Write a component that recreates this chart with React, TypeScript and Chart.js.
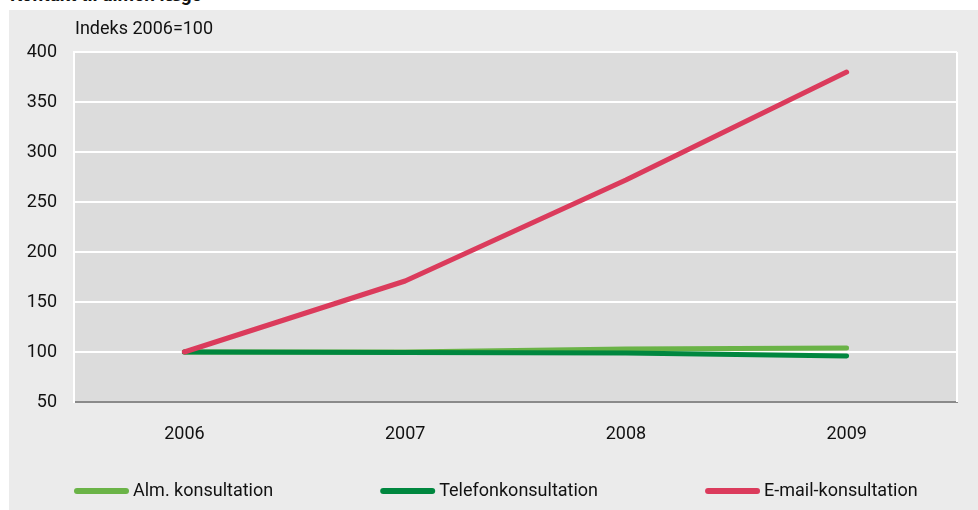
import React, { useEffect, useRef } from "react";
import { Chart, registerables } from "chart.js";

Chart.register(...registerables);

const TITLE = "Kontakt til almen læge";
const Y_TITLE = "Indeks 2006=100";
const categories = ["2006", "2007", "2008", "2009"];
const seriesNames = ["Alm. konsultation", "Telefonkonsultation", "E-mail-konsultation"];
const almValues = [100, 100, 103, 104];
const teleValues = [100, 99.5, 99, 96];
const emailValues = [100, 171, 272, 380];
const yTicks = [50, 100, 150, 200, 250, 300, 350, 400];

const FONT = "Roboto, 'Open Sans', sans-serif";
const TEXT = "#111111";
const FS = 18;

const plotDecor = {
  id: "plotDecor",
  beforeDraw(chart: any) {
    const { ctx, chartArea } = chart;
    ctx.save();
    ctx.fillStyle = "#dcdcdc";
    ctx.fillRect(chartArea.left, chartArea.top, chartArea.right - chartArea.left, chartArea.bottom - chartArea.top);
    ctx.restore();
  },
  beforeDatasetsDraw(chart: any) {
    const { ctx, chartArea } = chart;
    ctx.save();
    ctx.strokeStyle = "#ffffff";
    ctx.lineWidth = 2;
    ctx.beginPath();
    ctx.moveTo(chartArea.right, chartArea.top);
    ctx.lineTo(chartArea.right, chartArea.bottom);
    ctx.stroke();
    ctx.restore();
  },
  afterDraw(chart: any) {
    const { ctx, chartArea } = chart;
    ctx.save();
    ctx.font = `${FS}px ${FONT}`;
    ctx.fillStyle = TEXT;
    ctx.textBaseline = "middle";
    ctx.textAlign = "left";
    ctx.fillText(Y_TITLE, chartArea.left + 1, 19);
    // legend
    const y = 481;
    const lineW = 55;
    const gap = 107;
    let x = chartArea.left;
    chart.data.datasets.forEach((ds: any) => {
      ctx.strokeStyle = ds.borderColor;
      ctx.lineWidth = 6;
      ctx.lineCap = "round";
      ctx.beginPath();
      ctx.moveTo(x + 3, y);
      ctx.lineTo(x + lineW - 3, y);
      ctx.stroke();
      ctx.fillStyle = TEXT;
      ctx.fillText(ds.label, x + lineW + 4, y);
      x += lineW + 4 + ctx.measureText(ds.label).width + gap;
    });
    ctx.restore();
  },
};

export default function App() {
  const ref = useRef<HTMLCanvasElement | null>(null);
  useEffect(() => {
    if (!ref.current) return;
    const chart = new Chart(ref.current, {
      type: "line",
      data: {
        labels: categories,
        datasets: [
          { label: seriesNames[0], data: almValues, borderColor: "#6ab347", order: 2 },
          { label: seriesNames[1], data: teleValues, borderColor: "#00873f", order: 1 },
          { label: seriesNames[2], data: emailValues, borderColor: "#db3b5c", order: 0 },
        ].map((d) => ({
          ...d,
          borderWidth: 5,
          pointRadius: 0,
          tension: 0,
          borderCapStyle: "round" as const,
          borderJoinStyle: "round" as const,
          fill: false,
        })),
      },
      options: {
        animation: false,
        responsive: false,
        maintainAspectRatio: false,
        layout: { padding: { top: 42, right: 21, left: 0, bottom: 0 } },
        plugins: { legend: { display: false }, tooltip: { enabled: false }, title: { display: false } },
        scales: {
          x: {
            offset: true,
            grid: { display: false, drawTicks: false },
            border: { display: true, color: "#8a8a8a", width: 2 },
            ticks: { padding: 22, color: TEXT, font: { family: FONT, size: FS } },
            afterFit(scale: any) {
              scale.height = 108;
            },
          },
          y: {
            min: 50,
            max: 400,
            afterBuildTicks(scale: any) {
              scale.ticks = yTicks.map((v) => ({ value: v }));
            },
            grid: { color: "#ffffff", lineWidth: 2, drawTicks: false },
            border: { display: true, color: "#ffffff", width: 2 },
            ticks: { padding: 17, color: TEXT, font: { family: FONT, size: FS } },
            afterFit(scale: any) {
              scale.width = 65;
            },
          },
        },
      },
      plugins: [plotDecor],
    });
    return () => chart.destroy();
  }, []);

  return (
    <div style={{ position: "fixed", left: 0, top: 0, width: 978, height: 510, overflow: "hidden", background: "#ffffff" }}>
      <div
        style={{
          position: "absolute",
          left: 10,
          top: -14,
          fontFamily: FONT,
          fontWeight: "bold",
          fontSize: 19,
          lineHeight: "18px",
          color: TEXT,
          whiteSpace: "nowrap",
        }}
      >
        {TITLE}
      </div>
      <div style={{ position: "absolute", left: 9, top: 10, width: 969, height: 500, background: "#ebebeb" }}>
        <canvas ref={ref} width={969} height={500} style={{ width: 969, height: 500, display: "block" }} />
      </div>
    </div>
  );
}
